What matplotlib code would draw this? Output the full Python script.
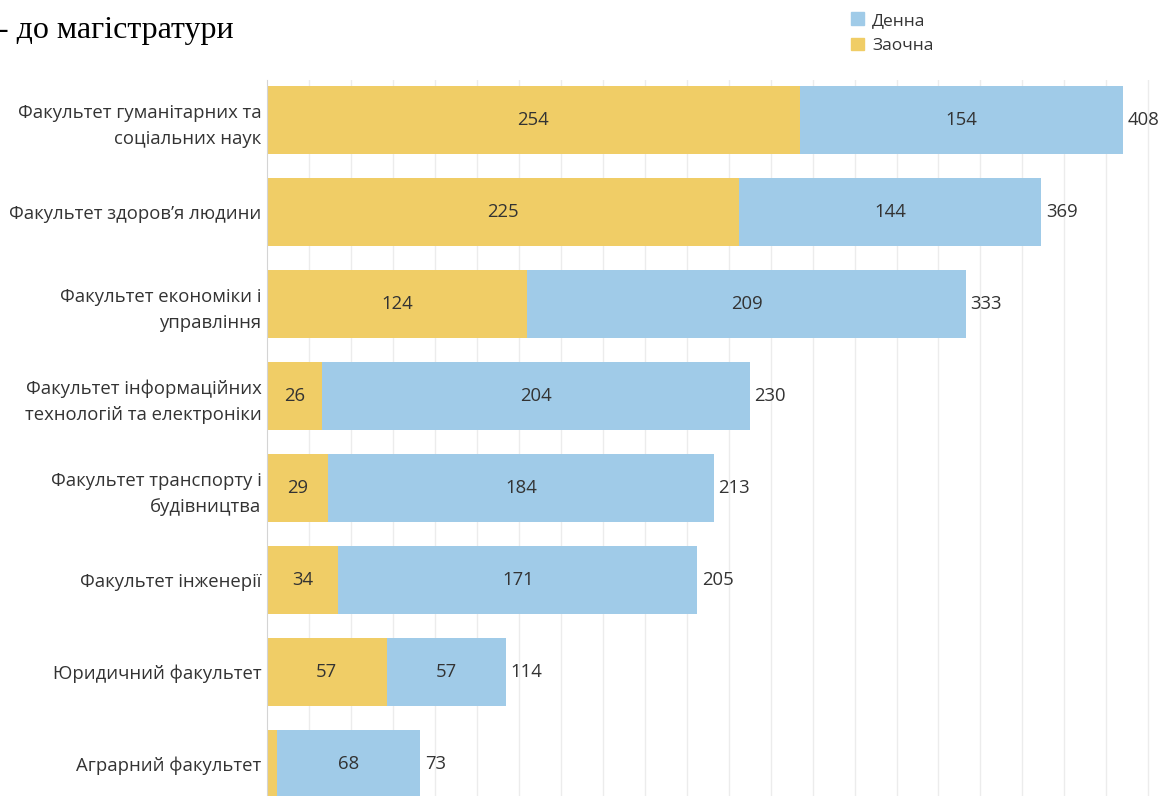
import numpy as np
import matplotlib.pyplot as plt
from matplotlib.patches import Patch

# data
faculties = ["Факультет гуманітарних та\nсоціальних наук",
             "Факультет здоров’я людини",
             "Факультет економіки і\nуправління",
             "Факультет інформаційних\nтехнологій та електроніки",
             "Факультет транспорту і\nбудівництва",
             "Факультет інженерії",
             "Юридичний факультет",
             "Аграрний факультет"]
zaochna = [254, 225, 124, 26, 29, 34, 57, 5]
denna = [154, 144, 209, 204, 184, 171, 57, 68]

c_den = "#A0CBE8"
c_zao = "#F0CD66"
txt = "#333333"

plt.rcParams['font.family'] = ['Open Sans', 'DejaVu Sans']

fig = plt.figure(figsize=(11.63, 7.96), dpi=100)
ax = fig.add_axes([267/1163, 0, 1 - 267/1163, 716/796])

y = np.arange(len(faculties))
zao = np.array(zaochna)
den = np.array(denna)
total = zao + den

ax.barh(y, zao, height=0.74, color=c_zao, zorder=2)
ax.barh(y, den, left=zao, height=0.74, color=c_den, zorder=2)

fs = 13.3
for i in range(len(y)):
    if zao[i] >= 20:
        ax.text(zao[i] / 2, y[i], str(zao[i]), ha='center', va='center', fontsize=fs, color=txt, zorder=3)
    ax.text(zao[i] + den[i] / 2, y[i], str(den[i]), ha='center', va='center', fontsize=fs, color=txt, zorder=3)
    ax.text(total[i] + 2.2, y[i], str(total[i]), ha='left', va='center', fontsize=fs, color=txt, zorder=3)

ax.set_xlim(0, 427)
ax.set_ylim(7.348, -0.435)
ax.set_xticks(np.arange(20, 427, 20))
ax.set_xticklabels([])
ax.grid(axis='x', color='#ececec', linewidth=1, zorder=0)
ax.set_yticks(y)
ax.set_yticklabels(faculties, fontsize=fs, color=txt, linespacing=1.55)
ax.tick_params(length=0, pad=4)
for s in ['top', 'right', 'bottom']:
    ax.spines[s].set_visible(False)
ax.spines['left'].set_color('#d4d4d4')

fig.text(-0.002, 0.962, "- до магістратури", fontsize=23, family='Liberation Serif',
         ha='left', va='center', color='black')

handles = [Patch(color=c_den, label='Денна'), Patch(color=c_zao, label='Заочна')]
fig.legend(handles=handles, loc='upper left', bbox_to_anchor=(0.718, 1.004), frameon=False,
           fontsize=12.5, handlelength=0.75, handleheight=0.75, handletextpad=0.5,
           labelspacing=0.5, labelcolor=txt)

fig.savefig("out.png", dpi=100)
